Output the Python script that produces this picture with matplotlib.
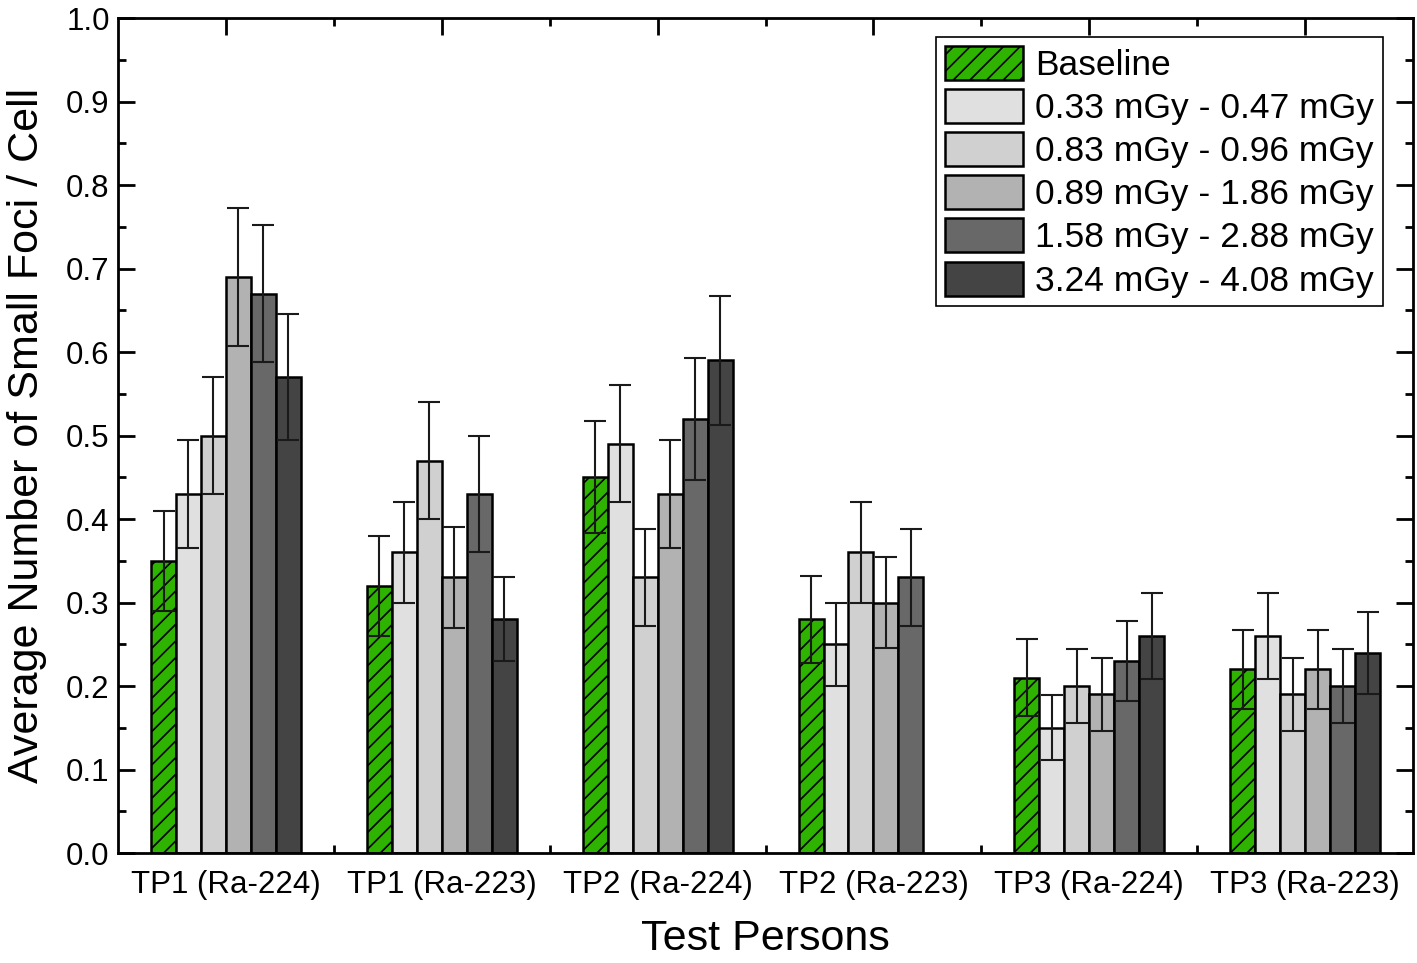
import numpy as np
import matplotlib.pyplot as plt
from matplotlib.ticker import FixedLocator, MultipleLocator

plt.rcParams["font.family"] = ["Liberation Sans", "DejaVu Sans"]
plt.rcParams["hatch.linewidth"] = 1.2

# Groups on the x axis
groups = ["TP1 (Ra-224)", "TP1 (Ra-223)", "TP2 (Ra-224)",
          "TP2 (Ra-223)", "TP3 (Ra-224)", "TP3 (Ra-223)"]

# Series names (legend)
series = ["Baseline", "0.33 mGy - 0.47 mGy", "0.83 mGy - 0.96 mGy",
          "0.89 mGy - 1.86 mGy", "1.58 mGy - 2.88 mGy", "3.24 mGy - 4.08 mGy"]

# Mean foci per cell, one list per series (value per group)
baseline = [0.35, 0.32, 0.45, 0.28, 0.21, 0.22]
dose_033 = [0.43, 0.36, 0.49, 0.25, 0.15, 0.26]
dose_083 = [0.50, 0.47, 0.33, 0.36, 0.20, 0.19]
dose_089 = [0.69, 0.33, 0.43, 0.30, 0.19, 0.22]
dose_158 = [0.67, 0.43, 0.52, 0.33, 0.23, 0.20]
dose_324 = [0.57, 0.28, 0.59, np.nan, 0.26, 0.24]

# Error bars (symmetric)
err_baseline = [0.060, 0.060, 0.067, 0.052, 0.046, 0.047]
err_033 = [0.065, 0.060, 0.070, 0.050, 0.039, 0.051]
err_083 = [0.070, 0.070, 0.058, 0.060, 0.044, 0.044]
err_089 = [0.083, 0.060, 0.065, 0.055, 0.044, 0.047]
err_158 = [0.082, 0.070, 0.073, 0.058, 0.048, 0.044]
err_324 = [0.075, 0.050, 0.077, np.nan, 0.051, 0.049]

values = [baseline, dose_033, dose_083, dose_089, dose_158, dose_324]
errors = [err_baseline, err_033, err_083, err_089, err_158, err_324]
colors = ["#2db300", "#e0e0e0", "#d0d0d0", "#b2b2b2", "#686868", "#444444"]
hatches = ["//", None, None, None, None, None]

fig = plt.figure(figsize=(14.17, 9.63), dpi=100)
ax = fig.add_axes([0.0833, 0.1142, 0.9139, 0.8671])

x = np.arange(len(groups))
width = 0.1157

for i, (vals, errs) in enumerate(zip(values, errors)):
    pos = x + (i - 2.5) * width
    ax.bar(pos, vals, width, color=colors[i], edgecolor="black",
           linewidth=1.8, hatch=hatches[i], label=series[i], zorder=2)
    ax.errorbar(pos, vals, yerr=errs, fmt="none", ecolor="#1a1a1a",
                elinewidth=1.5, capsize=8, capthick=1.5, zorder=3)

ax.set_xlim(-0.5, len(groups) - 0.5)
ax.set_ylim(0, 1.0)

ax.xaxis.set_major_locator(FixedLocator(x))
ax.xaxis.set_minor_locator(FixedLocator(x[:-1] + 0.5))
ax.set_xticklabels(groups)
ax.yaxis.set_major_locator(MultipleLocator(0.1))
ax.yaxis.set_minor_locator(MultipleLocator(0.05))
ax.yaxis.set_major_formatter(plt.FormatStrFormatter("%.1f"))

ax.tick_params(which="both", direction="in", top=True, right=True, width=2)
ax.tick_params(which="major", length=12)
ax.tick_params(which="minor", length=6)
ax.tick_params(axis="x", which="major", labelsize=22.5, pad=12)
ax.tick_params(axis="y", which="major", labelsize=22.5, pad=6)

for spine in ax.spines.values():
    spine.set_linewidth(2)

ax.set_xlabel("Test Persons", fontsize=31, labelpad=14)
ax.set_ylabel("Average Number of Small Foci / Cell", fontsize=31, labelpad=14)

leg = ax.legend(loc="upper right", bbox_to_anchor=(0.9768, 0.9772),
                borderaxespad=0, fontsize=25.5, fancybox=False, framealpha=1,
                edgecolor="black", handlelength=2.2, handleheight=1.1,
                labelspacing=0.2, handletextpad=0.35, borderpad=0.25)
leg.get_frame().set_linewidth(1.2)

plt.savefig("out.png", dpi=100)
